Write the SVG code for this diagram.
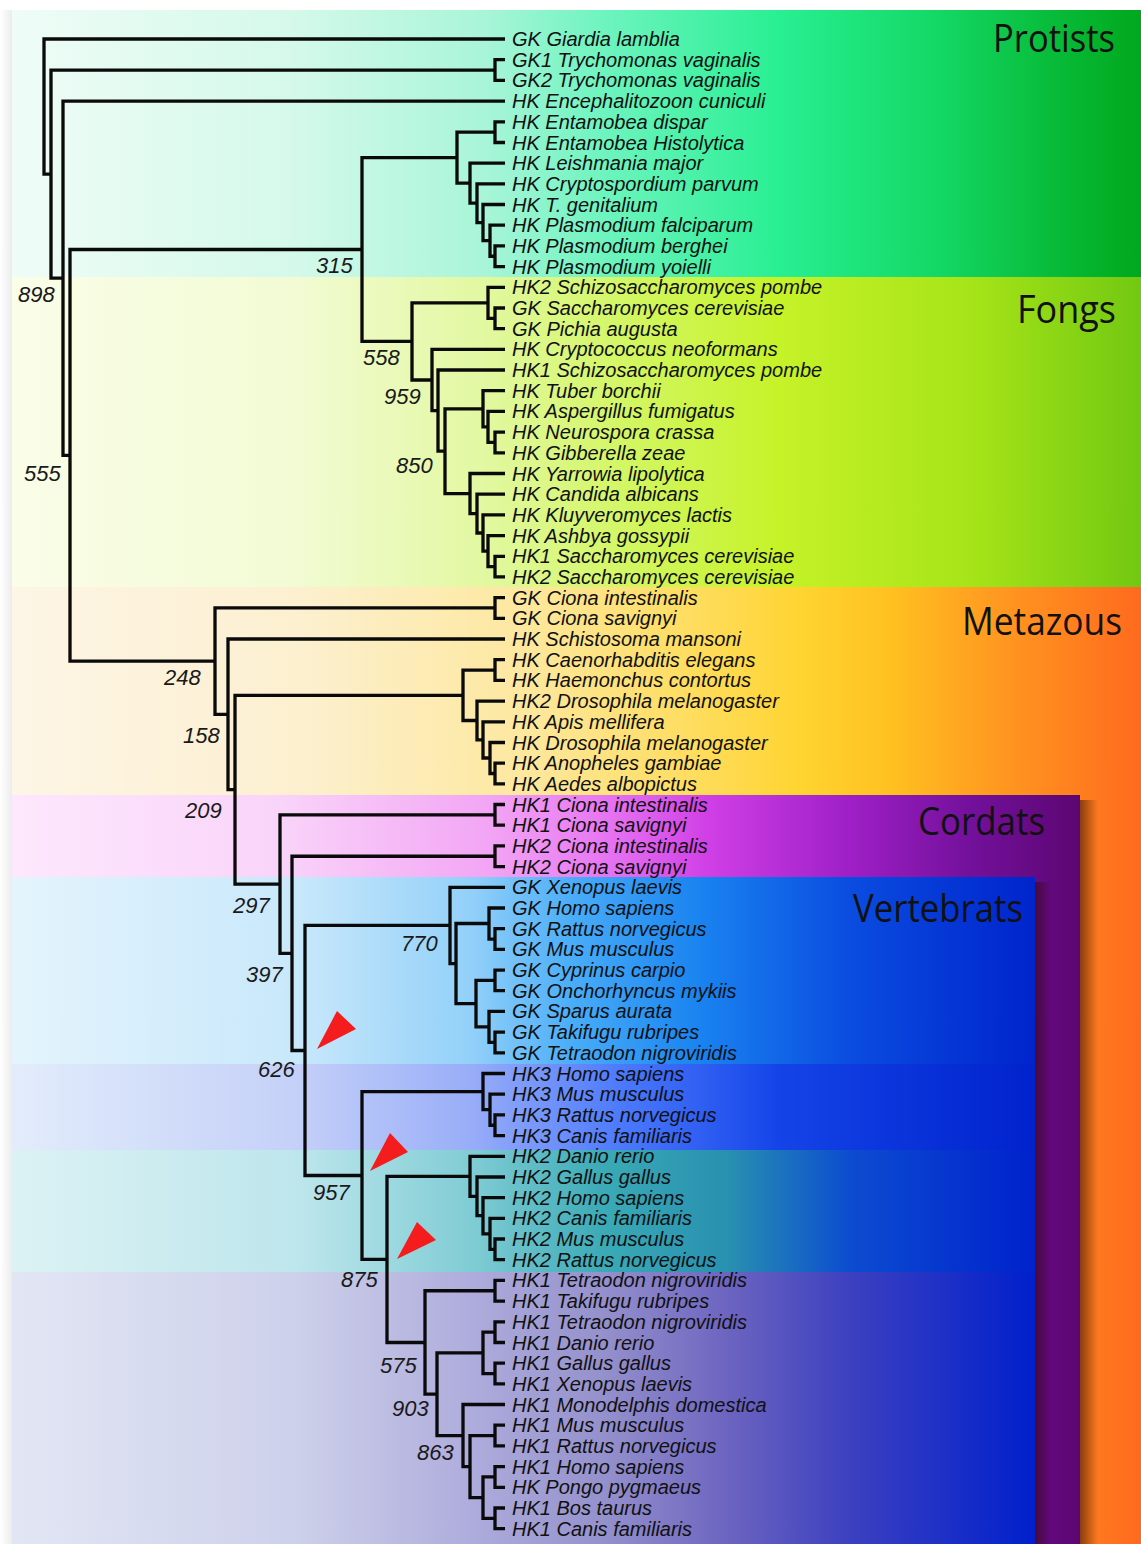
<svg xmlns="http://www.w3.org/2000/svg" width="1141" height="1544" viewBox="0 0 1141 1544">
<style>
.br{fill:none;stroke:#0a0a0a;stroke-width:3.3;stroke-linejoin:miter;stroke-linecap:butt}
.lf{font-family:"Liberation Sans",Arial,sans-serif;font-style:italic;font-size:20px;fill:#111}
.bs{font-family:"Liberation Sans",Arial,sans-serif;font-style:italic;font-size:22px;fill:#1a1a1a}
.tt{font-family:"Open Sans","Noto Sans",sans-serif;font-size:38px;fill:#111}
.tri{fill:#f41c1c}
</style>
<defs>
<linearGradient id="gProt" gradientUnits="userSpaceOnUse" x1="12" y1="0" x2="1141" y2="0">
<stop offset="0" stop-color="#effcf7"/><stop offset="0.25" stop-color="#d4f9ea"/><stop offset="0.42" stop-color="#a8f5d8"/><stop offset="0.52" stop-color="#70f4c0"/><stop offset="0.68" stop-color="#28ef92"/><stop offset="0.82" stop-color="#14d865"/><stop offset="0.92" stop-color="#08bc3a"/><stop offset="1" stop-color="#00a81c"/>
</linearGradient>
<linearGradient id="gFong" gradientUnits="userSpaceOnUse" x1="12" y1="0" x2="1141" y2="0">
<stop offset="0" stop-color="#fafde8"/><stop offset="0.25" stop-color="#f2fbd4"/><stop offset="0.42" stop-color="#e2f8a0"/><stop offset="0.55" stop-color="#d2f660"/><stop offset="0.68" stop-color="#c6f228"/><stop offset="0.85" stop-color="#a6e418"/><stop offset="1" stop-color="#72c812"/>
</linearGradient>
<linearGradient id="gMeta" gradientUnits="userSpaceOnUse" x1="12" y1="0" x2="1141" y2="0">
<stop offset="0" stop-color="#fdf5e6"/><stop offset="0.25" stop-color="#fcf0d0"/><stop offset="0.45" stop-color="#fde8a0"/><stop offset="0.6" stop-color="#fedd60"/><stop offset="0.7" stop-color="#ffd430"/><stop offset="0.78" stop-color="#ffc020"/><stop offset="0.87" stop-color="#ff9a20"/><stop offset="1" stop-color="#ff6a1e"/>
</linearGradient>
<linearGradient id="gCord" gradientUnits="userSpaceOnUse" x1="12" y1="0" x2="1080" y2="0">
<stop offset="0" stop-color="#fde8fd"/><stop offset="0.25" stop-color="#f9d4f9"/><stop offset="0.45" stop-color="#f2a4f4"/><stop offset="0.55" stop-color="#e878f2"/><stop offset="0.65" stop-color="#d040e6"/><stop offset="0.78" stop-color="#a020c8"/><stop offset="0.9" stop-color="#72109a"/><stop offset="1" stop-color="#5c0672"/>
</linearGradient>
<linearGradient id="gVert" gradientUnits="userSpaceOnUse" x1="12" y1="0" x2="1035" y2="0">
<stop offset="0" stop-color="#e4f4fc"/><stop offset="0.28" stop-color="#c8e8fb"/><stop offset="0.45" stop-color="#92d0f9"/><stop offset="0.55" stop-color="#48acf8"/><stop offset="0.67" stop-color="#1a84f0"/><stop offset="0.82" stop-color="#0a4ce0"/><stop offset="1" stop-color="#0024cc"/>
</linearGradient>
<linearGradient id="gHK3" gradientUnits="userSpaceOnUse" x1="12" y1="0" x2="1035" y2="0">
<stop offset="0" stop-color="#e2ecfb"/><stop offset="0.28" stop-color="#c4d0f8"/><stop offset="0.45" stop-color="#98adf8"/><stop offset="0.6" stop-color="#4a78fc"/><stop offset="0.75" stop-color="#1444e8"/><stop offset="1" stop-color="#0022cc"/>
</linearGradient>
<linearGradient id="gHK2" gradientUnits="userSpaceOnUse" x1="12" y1="0" x2="1035" y2="0">
<stop offset="0" stop-color="#dcf2f4"/><stop offset="0.28" stop-color="#bde6ec"/><stop offset="0.45" stop-color="#80ccd4"/><stop offset="0.58" stop-color="#3aaab6"/><stop offset="0.7" stop-color="#2890b0"/><stop offset="0.82" stop-color="#0c4cd0"/><stop offset="1" stop-color="#0022cc"/>
</linearGradient>
<linearGradient id="gHK1" gradientUnits="userSpaceOnUse" x1="12" y1="0" x2="1035" y2="0">
<stop offset="0" stop-color="#e2e6f4"/><stop offset="0.28" stop-color="#cdd0ea"/><stop offset="0.45" stop-color="#aeacdc"/><stop offset="0.58" stop-color="#9490cc"/><stop offset="0.7" stop-color="#6c64c0"/><stop offset="0.82" stop-color="#3c40c0"/><stop offset="1" stop-color="#0020cc"/>
</linearGradient>
<linearGradient id="gShadow" x1="0" y1="0" x2="1" y2="0">
<stop offset="0" stop-color="#2a0a00" stop-opacity="0.55"/><stop offset="1" stop-color="#2a0a00" stop-opacity="0"/>
</linearGradient>
<linearGradient id="gLeft" x1="0" y1="0" x2="1" y2="0">
<stop offset="0" stop-color="#ffffff"/><stop offset="1" stop-color="#ececec"/>
</linearGradient>
</defs>

<g id="background">
<rect x="0" y="0" width="1141" height="1544" fill="#ffffff"/>
<rect x="0" y="10" width="12" height="1534" fill="url(#gLeft)"/>
<rect x="12" y="10" width="1129" height="267" fill="url(#gProt)"/>
<rect x="12" y="277" width="1129" height="310" fill="url(#gFong)"/>
<rect x="12" y="587" width="1129" height="957" fill="url(#gMeta)"/>
<rect x="1080" y="800" width="18" height="744" fill="url(#gShadow)"/>
<rect x="12" y="795" width="1068" height="749" fill="url(#gCord)"/>
<rect x="1035" y="882" width="16" height="662" fill="url(#gShadow)"/>
<rect x="12" y="877" width="1023" height="187" fill="url(#gVert)"/>
<rect x="12" y="1064" width="1023" height="86" fill="url(#gHK3)"/>
<rect x="12" y="1150" width="1023" height="122" fill="url(#gHK2)"/>
<rect x="12" y="1272" width="1023" height="272" fill="url(#gHK1)"/>
</g>

<g id="group-titles">
<g id="title-protists"><text class="tt" x="993" y="52" textLength="122" lengthAdjust="spacingAndGlyphs">Protists</text></g>
<g id="title-fongs"><text class="tt" x="1017" y="323" textLength="99" lengthAdjust="spacingAndGlyphs">Fongs</text></g>
<g id="title-metazous"><text class="tt" x="962" y="635" textLength="160" lengthAdjust="spacingAndGlyphs">Metazous</text></g>
<g id="title-cordats"><text class="tt" x="918" y="835" textLength="127" lengthAdjust="spacingAndGlyphs">Cordats</text></g>
<g id="title-vertebrats"><text class="tt" x="853" y="922" textLength="170" lengthAdjust="spacingAndGlyphs">Vertebrats</text></g>
</g>

<g id="connectors" class="br">
<path d="M505,39 H44 V174.1 H51"/>
<path d="M495,70.05 H51 V278.2 H63"/>
<path d="M505,59.7 H495 V80.4 H505"/>
<path d="M505,101.1 H63 V455.3 H70"/>
<path d="M362,249.5 H70 V661.15 H215"/>
<path d="M457,157.65 H362 V341.4 H412"/>
<path d="M495,132.15 H457 V183.15 H470"/>
<path d="M505,121.8 H495 V142.5 H505"/>
<path d="M505,163.1 H470 V203.2 H477"/>
<path d="M505,183.8 H477 V222.6 H483"/>
<path d="M505,204.5 H483 V240.7 H490"/>
<path d="M505,225.2 H490 V256.25 H495"/>
<path d="M505,245.9 H495 V266.6 H505"/>
<path d="M488,302.8 H412 V380 H432"/>
<path d="M505,287.3 H488 V318.35 H495"/>
<path d="M505,308 H495 V328.7 H505"/>
<path d="M505,349.4 H432 V410.6 H438"/>
<path d="M505,370 H438 V451.2 H445"/>
<path d="M483,408.8 H445 V493.55 H470"/>
<path d="M505,390.7 H483 V426.9 H488"/>
<path d="M505,411.4 H488 V442.45 H495"/>
<path d="M505,432.1 H495 V452.8 H505"/>
<path d="M505,473.5 H470 V513.6 H477"/>
<path d="M505,494.2 H477 V533 H483"/>
<path d="M505,514.9 H483 V551.1 H488"/>
<path d="M505,535.6 H488 V566.6 H495"/>
<path d="M505,556.3 H495 V576.9 H505"/>
<path d="M495,607.95 H215 V714.35 H228"/>
<path d="M505,597.6 H495 V618.3 H505"/>
<path d="M505,639 H228 V789.7 H235"/>
<path d="M463,695.3 H235 V884.1 H280"/>
<path d="M495,670.05 H463 V720.5 H477"/>
<path d="M505,659.7 H495 V680.4 H505"/>
<path d="M505,701.1 H477 V739.9 H483"/>
<path d="M505,721.8 H483 V758 H490"/>
<path d="M505,742.5 H490 V773.5 H495"/>
<path d="M505,763.2 H495 V783.8 H505"/>
<path d="M495,814.85 H280 V953.4 H292"/>
<path d="M505,804.5 H495 V825.2 H505"/>
<path d="M495,856.25 H292 V1050.5 H305"/>
<path d="M505,845.9 H495 V866.6 H505"/>
<path d="M450,925.45 H305 V1175.5 H362"/>
<path d="M505,887.3 H450 V963.6 H456"/>
<path d="M489,923.5 H456 V1003.65 H476"/>
<path d="M505,908 H489 V939.05 H495"/>
<path d="M505,928.7 H495 V949.4 H505"/>
<path d="M495,980.4 H476 V1026.9 H489"/>
<path d="M505,970.1 H495 V990.7 H505"/>
<path d="M505,1011.4 H489 V1042.45 H495"/>
<path d="M505,1032.1 H495 V1052.8 H505"/>
<path d="M483,1091.6 H362 V1259.4 H387"/>
<path d="M505,1073.5 H483 V1109.7 H490"/>
<path d="M505,1094.2 H490 V1125.25 H495"/>
<path d="M505,1114.9 H495 V1135.6 H505"/>
<path d="M470,1176.3 H387 V1342.5 H425"/>
<path d="M505,1156.3 H470 V1196.35 H477"/>
<path d="M505,1177 H477 V1215.7 H483"/>
<path d="M505,1197.6 H483 V1233.8 H490"/>
<path d="M505,1218.3 H490 V1249.35 H495"/>
<path d="M505,1239 H495 V1259.7 H505"/>
<path d="M495,1290.75 H425 V1394.2 H437"/>
<path d="M505,1280.4 H495 V1301.1 H505"/>
<path d="M483,1352.85 H437 V1435.55 H463"/>
<path d="M495,1332.15 H483 V1373.55 H495"/>
<path d="M505,1321.8 H495 V1342.5 H505"/>
<path d="M505,1363.2 H495 V1383.9 H505"/>
<path d="M505,1404.5 H463 V1466.6 H470"/>
<path d="M495,1435.55 H470 V1497.65 H483"/>
<path d="M505,1425.2 H495 V1445.9 H505"/>
<path d="M495,1476.95 H483 V1518.35 H495"/>
<path d="M505,1466.6 H495 V1487.3 H505"/>
<path d="M505,1508 H495 V1528.7 H505"/>
</g>

<g id="bootstrap-values" class="bs">
<text x="18" y="302">898</text>
<text x="316" y="273">315</text>
<text x="24" y="481">555</text>
<text x="363" y="365">558</text>
<text x="384" y="404">959</text>
<text x="396" y="473">850</text>
<text x="164" y="685">248</text>
<text x="183" y="743">158</text>
<text x="185" y="818">209</text>
<text x="233" y="913">297</text>
<text x="401" y="951">770</text>
<text x="246" y="982">397</text>
<text x="258" y="1077">626</text>
<text x="313" y="1200">957</text>
<text x="341" y="1287">875</text>
<text x="380" y="1373">575</text>
<text x="392" y="1416">903</text>
<text x="417" y="1460">863</text>
</g>

<g id="duplication-markers">
<polygon class="tri" points="337,1011 356,1029 317,1049"/>
<polygon class="tri" points="390,1133 408,1152 370,1171"/>
<polygon class="tri" points="417,1222 436,1240 397,1259"/>
</g>

<g id="leaves" class="lf">
<g id="leaf-0"><text x="512" y="46">GK Giardia lamblia</text></g>
<g id="leaf-1"><text x="512" y="66.7">GK1 Trychomonas vaginalis</text></g>
<g id="leaf-2"><text x="512" y="87.4">GK2 Trychomonas vaginalis</text></g>
<g id="leaf-3"><text x="512" y="108.1">HK Encephalitozoon cuniculi</text></g>
<g id="leaf-4"><text x="512" y="128.8">HK Entamobea dispar</text></g>
<g id="leaf-5"><text x="512" y="149.5">HK Entamobea Histolytica</text></g>
<g id="leaf-6"><text x="512" y="170.1">HK Leishmania major</text></g>
<g id="leaf-7"><text x="512" y="190.8">HK Cryptospordium parvum</text></g>
<g id="leaf-8"><text x="512" y="211.5">HK T. genitalium</text></g>
<g id="leaf-9"><text x="512" y="232.2">HK Plasmodium falciparum</text></g>
<g id="leaf-10"><text x="512" y="252.9">HK Plasmodium berghei</text></g>
<g id="leaf-11"><text x="512" y="273.6">HK Plasmodium yoielli</text></g>
<g id="leaf-12"><text x="512" y="294.3">HK2 Schizosaccharomyces pombe</text></g>
<g id="leaf-13"><text x="512" y="315">GK Saccharomyces cerevisiae</text></g>
<g id="leaf-14"><text x="512" y="335.7">GK Pichia augusta</text></g>
<g id="leaf-15"><text x="512" y="356.4">HK Cryptococcus neoformans</text></g>
<g id="leaf-16"><text x="512" y="377">HK1 Schizosaccharomyces pombe</text></g>
<g id="leaf-17"><text x="512" y="397.7">HK Tuber borchii</text></g>
<g id="leaf-18"><text x="512" y="418.4">HK Aspergillus fumigatus</text></g>
<g id="leaf-19"><text x="512" y="439.1">HK Neurospora crassa</text></g>
<g id="leaf-20"><text x="512" y="459.8">HK Gibberella zeae</text></g>
<g id="leaf-21"><text x="512" y="480.5">HK Yarrowia lipolytica</text></g>
<g id="leaf-22"><text x="512" y="501.2">HK Candida albicans</text></g>
<g id="leaf-23"><text x="512" y="521.9">HK Kluyveromyces lactis</text></g>
<g id="leaf-24"><text x="512" y="542.6">HK Ashbya gossypii</text></g>
<g id="leaf-25"><text x="512" y="563.3">HK1 Saccharomyces cerevisiae</text></g>
<g id="leaf-26"><text x="512" y="583.9">HK2 Saccharomyces cerevisiae</text></g>
<g id="leaf-27"><text x="512" y="604.6">GK Ciona intestinalis</text></g>
<g id="leaf-28"><text x="512" y="625.3">GK Ciona savignyi</text></g>
<g id="leaf-29"><text x="512" y="646">HK Schistosoma mansoni</text></g>
<g id="leaf-30"><text x="512" y="666.7">HK Caenorhabditis elegans</text></g>
<g id="leaf-31"><text x="512" y="687.4">HK Haemonchus contortus</text></g>
<g id="leaf-32"><text x="512" y="708.1">HK2 Drosophila melanogaster</text></g>
<g id="leaf-33"><text x="512" y="728.8">HK Apis mellifera</text></g>
<g id="leaf-34"><text x="512" y="749.5">HK Drosophila melanogaster</text></g>
<g id="leaf-35"><text x="512" y="770.2">HK Anopheles gambiae</text></g>
<g id="leaf-36"><text x="512" y="790.8">HK Aedes albopictus</text></g>
<g id="leaf-37"><text x="512" y="811.5">HK1 Ciona intestinalis</text></g>
<g id="leaf-38"><text x="512" y="832.2">HK1 Ciona savignyi</text></g>
<g id="leaf-39"><text x="512" y="852.9">HK2 Ciona intestinalis</text></g>
<g id="leaf-40"><text x="512" y="873.6">HK2 Ciona savignyi</text></g>
<g id="leaf-41"><text x="512" y="894.3">GK Xenopus laevis</text></g>
<g id="leaf-42"><text x="512" y="915">GK Homo sapiens</text></g>
<g id="leaf-43"><text x="512" y="935.7">GK Rattus norvegicus</text></g>
<g id="leaf-44"><text x="512" y="956.4">GK Mus musculus</text></g>
<g id="leaf-45"><text x="512" y="977.1">GK Cyprinus carpio</text></g>
<g id="leaf-46"><text x="512" y="997.7">GK Onchorhyncus mykiis</text></g>
<g id="leaf-47"><text x="512" y="1018.4">GK Sparus aurata</text></g>
<g id="leaf-48"><text x="512" y="1039.1">GK Takifugu rubripes</text></g>
<g id="leaf-49"><text x="512" y="1059.8">GK Tetraodon nigroviridis</text></g>
<g id="leaf-50"><text x="512" y="1080.5">HK3 Homo sapiens</text></g>
<g id="leaf-51"><text x="512" y="1101.2">HK3 Mus musculus</text></g>
<g id="leaf-52"><text x="512" y="1121.9">HK3 Rattus norvegicus</text></g>
<g id="leaf-53"><text x="512" y="1142.6">HK3 Canis familiaris</text></g>
<g id="leaf-54"><text x="512" y="1163.3">HK2 Danio rerio</text></g>
<g id="leaf-55"><text x="512" y="1184">HK2 Gallus gallus</text></g>
<g id="leaf-56"><text x="512" y="1204.6">HK2 Homo sapiens</text></g>
<g id="leaf-57"><text x="512" y="1225.3">HK2 Canis familiaris</text></g>
<g id="leaf-58"><text x="512" y="1246">HK2 Mus musculus</text></g>
<g id="leaf-59"><text x="512" y="1266.7">HK2 Rattus norvegicus</text></g>
<g id="leaf-60"><text x="512" y="1287.4">HK1 Tetraodon nigroviridis</text></g>
<g id="leaf-61"><text x="512" y="1308.1">HK1 Takifugu rubripes</text></g>
<g id="leaf-62"><text x="512" y="1328.8">HK1 Tetraodon nigroviridis</text></g>
<g id="leaf-63"><text x="512" y="1349.5">HK1 Danio rerio</text></g>
<g id="leaf-64"><text x="512" y="1370.2">HK1 Gallus gallus</text></g>
<g id="leaf-65"><text x="512" y="1390.9">HK1 Xenopus laevis</text></g>
<g id="leaf-66"><text x="512" y="1411.5">HK1 Monodelphis domestica</text></g>
<g id="leaf-67"><text x="512" y="1432.2">HK1 Mus musculus</text></g>
<g id="leaf-68"><text x="512" y="1452.9">HK1 Rattus norvegicus</text></g>
<g id="leaf-69"><text x="512" y="1473.6">HK1 Homo sapiens</text></g>
<g id="leaf-70"><text x="512" y="1494.3">HK Pongo pygmaeus</text></g>
<g id="leaf-71"><text x="512" y="1515">HK1 Bos taurus</text></g>
<g id="leaf-72"><text x="512" y="1535.7">HK1 Canis familiaris</text></g>
</g>
</svg>
